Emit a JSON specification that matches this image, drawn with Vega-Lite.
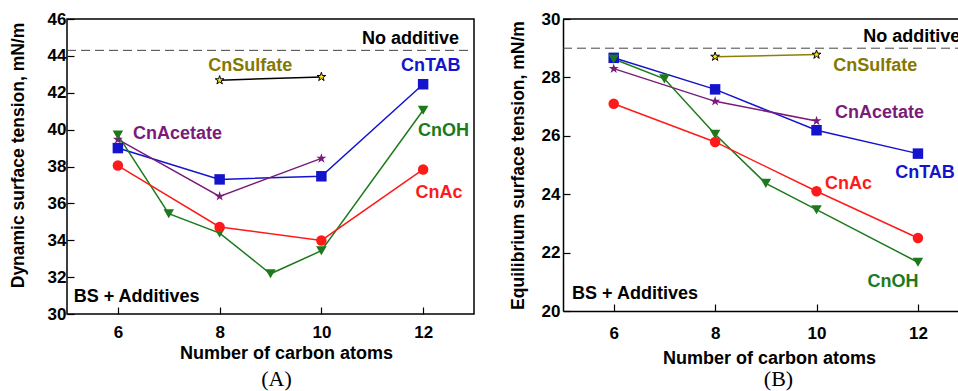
{
  "$schema": "https://vega.github.io/schema/vega-lite/v6.json",
  "padding": {"left": 8, "top": 9, "right": 0, "bottom": 0},
  "autosize": {"type": "pad"},
  "background": "white",
  "spacing": 89,
  "bounds": "flush",
  "config": {
    "font": "Liberation Sans",
    "view": {"stroke": "black", "strokeWidth": 1.5},
    "axis": {
      "grid": false,
      "domainColor": "black",
      "domainWidth": 1.5,
      "tickColor": "black",
      "tickWidth": 1.2,
      "tickSize": -7,
      "labelFont": "Liberation Sans",
      "labelFontWeight": "bold",
      "labelFontSize": 17,
      "labelColor": "black",
      "titleFont": "Liberation Sans",
      "titleFontWeight": "bold",
      "titleColor": "black"
    }
  },
  "datasets": {
    "dataA": [
      {"series": "CnTAB", "n": 6, "value": 39.0},
      {"series": "CnTAB", "n": 8, "value": 37.3},
      {"series": "CnTAB", "n": 10, "value": 37.47},
      {"series": "CnTAB", "n": 12, "value": 42.46},
      {"series": "CnAcetate", "n": 6, "value": 39.47},
      {"series": "CnAcetate", "n": 8, "value": 36.38},
      {"series": "CnAcetate", "n": 10, "value": 38.44},
      {"series": "CnOH", "n": 6, "value": 39.7},
      {"series": "CnOH", "n": 7, "value": 35.44},
      {"series": "CnOH", "n": 8, "value": 34.39},
      {"series": "CnOH", "n": 9, "value": 32.18},
      {"series": "CnOH", "n": 10, "value": 33.43},
      {"series": "CnOH", "n": 12, "value": 41.05},
      {"series": "CnAc", "n": 6, "value": 38.05},
      {"series": "CnAc", "n": 8, "value": 34.72},
      {"series": "CnAc", "n": 10, "value": 33.99},
      {"series": "CnAc", "n": 12, "value": 37.84},
      {"series": "CnSulfate", "n": 8, "value": 42.68},
      {"series": "CnSulfate", "n": 10, "value": 42.86}
    ],
    "dataB": [
      {"series": "CnTAB", "n": 6, "value": 28.67},
      {"series": "CnTAB", "n": 8, "value": 27.59},
      {"series": "CnTAB", "n": 10, "value": 26.19},
      {"series": "CnTAB", "n": 12, "value": 25.39},
      {"series": "CnAcetate", "n": 6, "value": 28.3},
      {"series": "CnAcetate", "n": 8, "value": 27.18},
      {"series": "CnAcetate", "n": 10, "value": 26.51},
      {"series": "CnOH", "n": 6, "value": 28.63},
      {"series": "CnOH", "n": 7, "value": 27.95},
      {"series": "CnOH", "n": 8, "value": 26.05},
      {"series": "CnOH", "n": 9, "value": 24.37},
      {"series": "CnOH", "n": 10, "value": 23.47},
      {"series": "CnOH", "n": 12, "value": 21.67},
      {"series": "CnAc", "n": 6, "value": 27.1},
      {"series": "CnAc", "n": 8, "value": 25.79},
      {"series": "CnAc", "n": 10, "value": 24.1},
      {"series": "CnAc", "n": 12, "value": 22.5},
      {"series": "CnSulfate", "n": 8, "value": 28.71},
      {"series": "CnSulfate", "n": 10, "value": 28.78}
    ],
    "labA": [
      {"series": "CnSulfate", "n": 8.6, "value": 43.46},
      {"series": "CnTAB", "n": 12.15, "value": 43.46},
      {"series": "CnAcetate", "n": 7.17, "value": 39.74},
      {"series": "CnOH", "n": 12.4, "value": 39.92},
      {"series": "CnAc", "n": 12.31, "value": 36.57}
    ],
    "labB": [
      {"series": "CnSulfate", "n": 11.16, "value": 28.39},
      {"series": "CnAcetate", "n": 11.24, "value": 26.77},
      {"series": "CnTAB", "n": 12.14, "value": 24.74},
      {"series": "CnAc", "n": 10.63, "value": 24.34},
      {"series": "CnOH", "n": 11.51, "value": 20.99}
    ]
  },
  "hconcat": [
    {
      "width": 407,
      "height": 295,
      "title": {"text": "(A)", "orient": "bottom", "anchor": "middle", "frame": "group", "font": "Liberation Serif", "fontSize": 22, "fontWeight": "normal", "color": "black", "offset": 7, "dx": 6},
      "encoding": {
        "x": {"field": "n", "type": "quantitative", "scale": {"domain": [5, 13], "nice": false, "zero": false},
          "axis": {"values": [6, 8, 10, 12], "domain": false, "title": "Number of carbon atoms", "titleFontSize": 18, "labelPadding": 17, "titlePadding": 4, "titleX": 219}},
        "y": {"field": "value", "type": "quantitative", "scale": {"domain": [30, 46], "nice": false, "zero": false},
          "axis": {"values": [30, 32, 34, 36, 38, 40, 42, 44, 46], "domain": false, "title": "Dynamic surface tension, mN/m", "titleFontSize": 17.5, "labelPadding": 8, "titlePadding": 20, "titleY": 136}}
      },
      "layer": [
        {
          "data": {"values": [{"n": 5, "n2": 13, "value": 44.3}]},
          "mark": {"type": "rule", "strokeDash": [9, 5], "color": "#444444", "strokeWidth": 1},
          "encoding": {"x2": {"field": "n2"}}
        },
        {
          "data": {"name": "dataA"},
          "transform": [{"filter": "datum.series !== 'CnSulfate'"}],
          "mark": {"type": "line", "strokeWidth": 1.5},
          "encoding": {
            "detail": {"field": "series"},
            "color": {"field": "series", "type": "nominal", "legend": null,
              "scale": {"domain": ["CnSulfate", "CnTAB", "CnAcetate", "CnOH", "CnAc"], "range": ["#857800", "#1414cc", "#7a1a7a", "#1c7a1c", "#ff1a1a"]}}
          }
        },
        {
          "data": {"name": "dataA"},
          "transform": [{"filter": "datum.series === 'CnSulfate'"}],
          "mark": {"type": "line", "strokeWidth": 1.5, "color": "black"},
          "encoding": {}
        },
        {
          "data": {"name": "dataA"},
          "transform": [{"filter": "datum.series !== 'CnSulfate'"}],
          "mark": {"type": "point", "filled": true, "opacity": 1},
          "encoding": {
            "color": {"field": "series", "type": "nominal", "legend": null},
            "shape": {"field": "series", "type": "nominal", "legend": null,
              "scale": {"domain": ["CnAc", "CnTAB", "CnOH", "CnAcetate"], "range": ["circle", "square", "triangle-down", "M0,-1L0.2245,-0.309L0.951,-0.309L0.363,0.118L0.588,0.809L0,0.382L-0.588,0.809L-0.363,0.118L-0.951,-0.309L-0.2245,-0.309Z"]}},
            "size": {"field": "series", "type": "nominal", "legend": null,
              "scale": {"domain": ["CnAc", "CnTAB", "CnOH", "CnAcetate"], "range": [110, 110, 125, 150]}}
          }
        },
        {
          "data": {"name": "dataA"},
          "transform": [{"filter": "datum.series === 'CnSulfate'"}],
          "mark": {"type": "point", "filled": true, "opacity": 1, "fill": "#ffe11a", "stroke": "black", "strokeWidth": 1, "size": 85,
            "shape": "M0,-1L0.2245,-0.309L0.951,-0.309L0.363,0.118L0.588,0.809L0,0.382L-0.588,0.809L-0.363,0.118L-0.951,-0.309L-0.2245,-0.309Z"},
          "encoding": {}
        },
        {
          "data": {"name": "labA"},
          "mark": {"type": "text", "font": "Liberation Sans", "fontWeight": "bold", "fontSize": 18, "align": "center", "baseline": "middle"},
          "encoding": {
            "text": {"field": "series"},
            "color": {"field": "series", "type": "nominal", "legend": null}
          }
        },
        {
          "data": {"values": [{"t": "No additive", "n": 11.75, "value": 44.91}, {"t": "BS + Additives", "n": 6.37, "value": 30.94}]},
          "mark": {"type": "text", "font": "Liberation Sans", "fontWeight": "bold", "fontSize": 18, "align": "center", "baseline": "middle", "color": "black"},
          "encoding": {"text": {"field": "t"}}
        }
      ]
    },
    {
      "width": 395,
      "height": 292,
      "view": {"stroke": null},
      "title": {"text": "(B)", "orient": "bottom", "anchor": "middle", "frame": "group", "font": "Liberation Serif", "fontSize": 22, "fontWeight": "normal", "color": "black", "offset": 2, "dx": 18},
      "encoding": {
        "x": {"field": "n", "type": "quantitative", "scale": {"domain": [5, 12.79], "nice": false, "zero": false},
          "axis": {"values": [6, 8, 10, 12], "domain": true, "title": "Number of carbon atoms", "titleFontSize": 18, "labelPadding": 21, "titlePadding": 8, "titleX": 206}},
        "y": {"field": "value", "type": "quantitative", "scale": {"domain": [20, 30], "nice": false, "zero": false},
          "axis": {"values": [20, 22, 24, 26, 28, 30], "domain": true, "title": "Equilibrium surface tension, mN/m", "titleFontSize": 17.5, "labelPadding": 10, "titlePadding": 14}}
      },
      "layer": [
        {
          "data": {"values": [{"n": 5, "n2": 12.79, "value": 30}]},
          "mark": {"type": "rule", "color": "black", "strokeWidth": 1.5},
          "encoding": {"x2": {"field": "n2"}}
        },
        {
          "data": {"values": [{"n": 5, "n2": 12.79, "value": 29.0}]},
          "mark": {"type": "rule", "strokeDash": [9, 5], "color": "#444444", "strokeWidth": 1},
          "encoding": {"x2": {"field": "n2"}}
        },
        {
          "data": {"name": "dataB"},
          "transform": [{"filter": "datum.series !== 'CnSulfate'"}],
          "mark": {"type": "line", "strokeWidth": 1.5},
          "encoding": {
            "detail": {"field": "series"},
            "color": {"field": "series", "type": "nominal", "legend": null,
              "scale": {"domain": ["CnSulfate", "CnTAB", "CnAcetate", "CnOH", "CnAc"], "range": ["#857800", "#1414cc", "#7a1a7a", "#1c7a1c", "#ff1a1a"]}}
          }
        },
        {
          "data": {"name": "dataB"},
          "transform": [{"filter": "datum.series === 'CnSulfate'"}],
          "mark": {"type": "line", "strokeWidth": 1.5, "color": "#8c8000"},
          "encoding": {}
        },
        {
          "data": {"name": "dataB"},
          "transform": [{"filter": "datum.series !== 'CnSulfate'"}],
          "mark": {"type": "point", "filled": true, "opacity": 1},
          "encoding": {
            "color": {"field": "series", "type": "nominal", "legend": null},
            "shape": {"field": "series", "type": "nominal", "legend": null,
              "scale": {"domain": ["CnAc", "CnTAB", "CnOH", "CnAcetate"], "range": ["circle", "square", "triangle-down", "M0,-1L0.2245,-0.309L0.951,-0.309L0.363,0.118L0.588,0.809L0,0.382L-0.588,0.809L-0.363,0.118L-0.951,-0.309L-0.2245,-0.309Z"]}},
            "size": {"field": "series", "type": "nominal", "legend": null,
              "scale": {"domain": ["CnAc", "CnTAB", "CnOH", "CnAcetate"], "range": [110, 110, 125, 150]}}
          }
        },
        {
          "data": {"name": "dataB"},
          "transform": [{"filter": "datum.series === 'CnSulfate'"}],
          "mark": {"type": "point", "filled": true, "opacity": 1, "fill": "#ffe11a", "stroke": "black", "strokeWidth": 1, "size": 85,
            "shape": "M0,-1L0.2245,-0.309L0.951,-0.309L0.363,0.118L0.588,0.809L0,0.382L-0.588,0.809L-0.363,0.118L-0.951,-0.309L-0.2245,-0.309Z"},
          "encoding": {}
        },
        {
          "data": {"name": "labB"},
          "mark": {"type": "text", "font": "Liberation Sans", "fontWeight": "bold", "fontSize": 18, "align": "center", "baseline": "middle"},
          "encoding": {
            "text": {"field": "series"},
            "color": {"field": "series", "type": "nominal", "legend": null}
          }
        },
        {
          "data": {"values": [{"t": "BS + Additives", "n": 6.42, "value": 20.59}]},
          "mark": {"type": "text", "font": "Liberation Sans", "fontWeight": "bold", "fontSize": 18, "align": "center", "baseline": "middle", "color": "black"},
          "encoding": {"text": {"field": "t"}}
        },
        {
          "data": {"values": [{"t": "No additive", "n": 10.92, "value": 29.39}]},
          "mark": {"type": "text", "font": "Liberation Sans", "fontWeight": "bold", "fontSize": 18, "align": "left", "baseline": "middle", "color": "black", "clip": true},
          "encoding": {"text": {"field": "t"}}
        }
      ]
    }
  ]
}
